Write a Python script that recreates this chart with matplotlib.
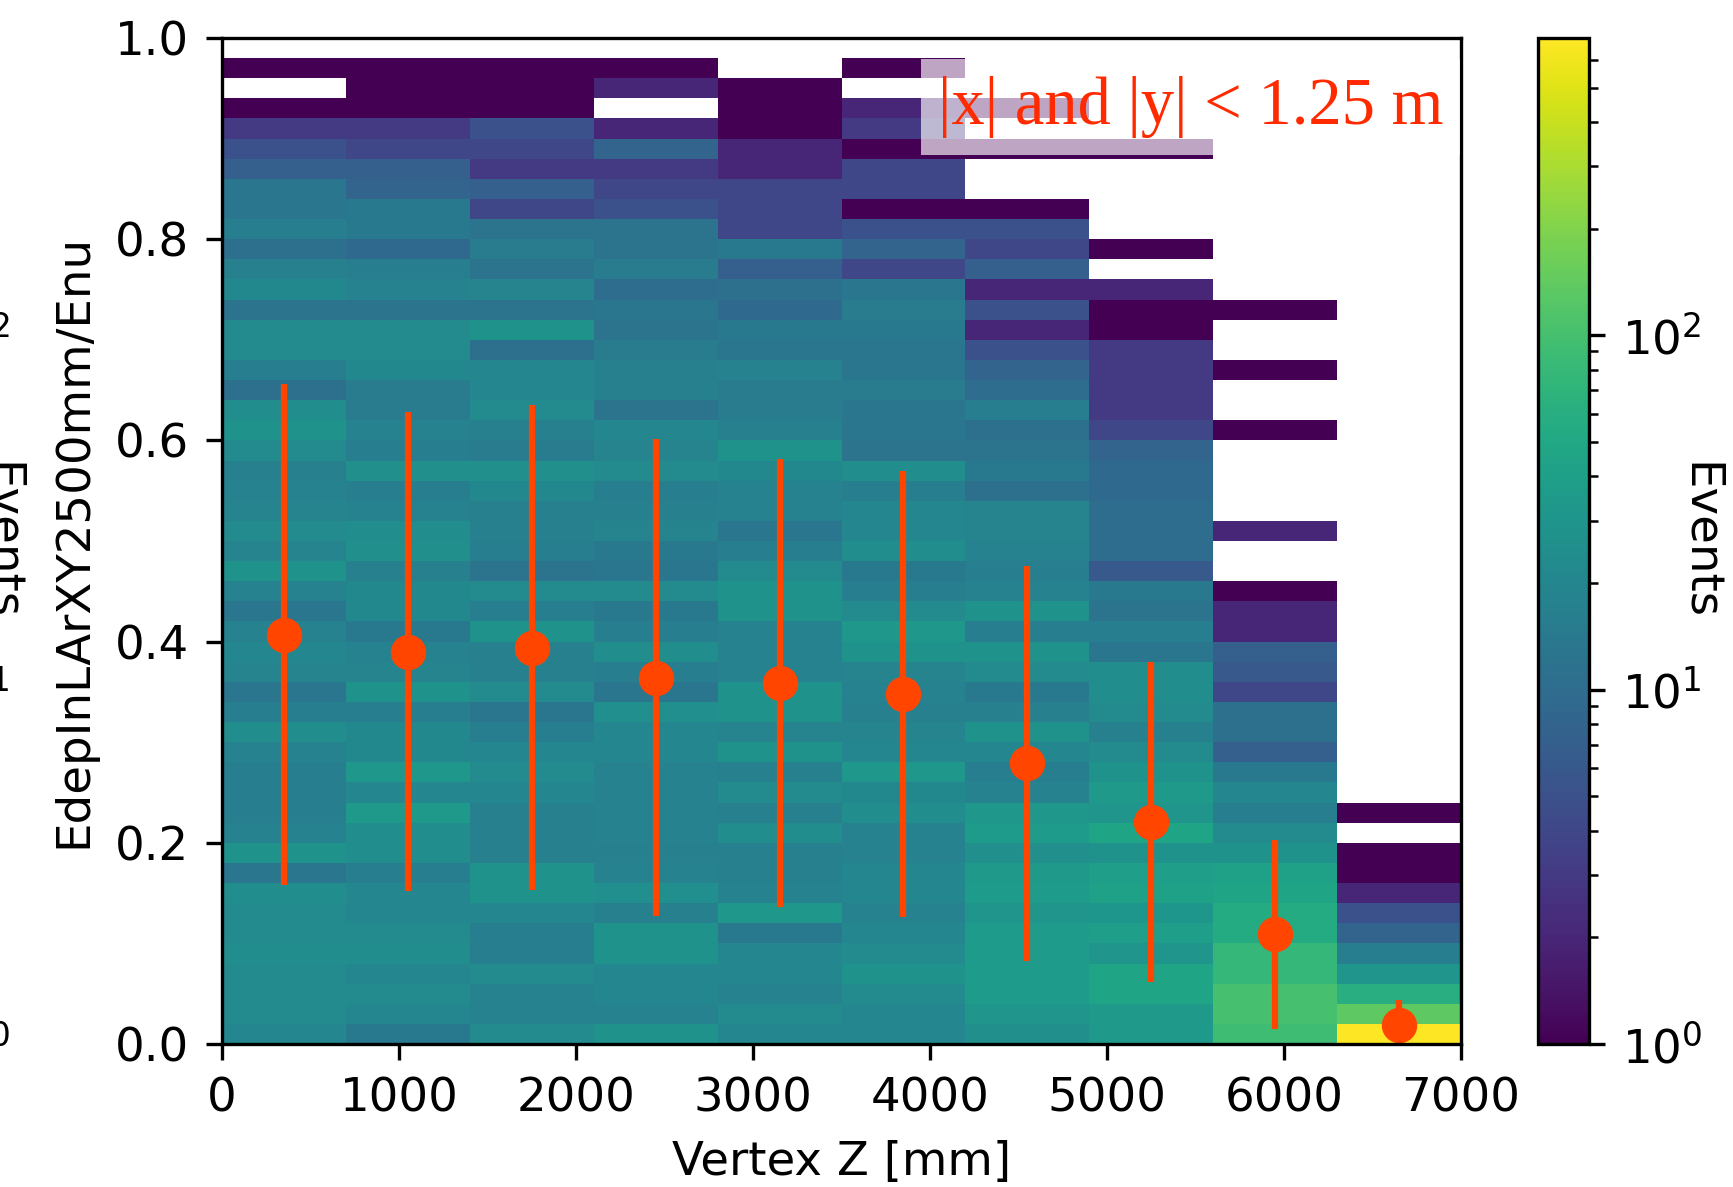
#!/usr/bin/env python3
"""2D histogram of the LAr energy fraction vs. vertex Z, with per-bin profile."""

import numpy as np
import matplotlib
matplotlib.use("Agg")
import matplotlib.pyplot as plt
from matplotlib.colors import LogNorm
from matplotlib.transforms import blended_transform_factory

# Bin edges: 10 bins in vertex Z (mm), 50 bins in EdepInLArXY2500mm/Enu
z_edges = np.linspace(0, 7000, 11)
frac_edges = np.linspace(0, 1, 51)

# Event counts per Z bin, listed from the lowest fraction bin upwards
counts_z0 = [20, 22, 22, 22, 24, 22, 22, 24, 13, 28, 18, 16, 16, 16, 18, 24, 16, 13, 19, 20,
             18, 13, 18, 27, 19, 22, 19, 18, 17, 22, 27, 24, 11, 16, 22, 22, 12, 21, 17, 11,
             16, 13, 13, 7, 5, 3, 1, 0, 1, 0]
counts_z1 = [14, 20, 22, 20, 24, 22, 20, 20, 16, 24, 24, 34, 20, 32, 21, 21, 16, 27, 19, 18,
             14, 21, 21, 17, 26, 24, 18, 16, 26, 16, 18, 15, 15, 21, 22, 22, 12, 18, 16, 9,
             14, 14, 8, 7, 4, 3, 1, 1, 1, 0]
counts_z2 = [22, 18, 18, 22, 16, 16, 20, 27, 28, 17, 17, 17, 20, 22, 20, 16, 13, 22, 17, 17,
             27, 16, 22, 12, 16, 17, 17, 21, 26, 15, 17, 22, 20, 20, 11, 27, 12, 19, 12, 15,
             12, 4, 7, 3, 4, 5, 1, 1, 1, 0]
counts_z3 = [28, 18, 20, 20, 27, 27, 17, 25, 18, 17, 18, 18, 18, 18, 20, 20, 25, 13, 16, 24,
             16, 14, 22, 13, 14, 19, 17, 16, 22, 19, 20, 12, 17, 17, 15, 12, 13, 10, 15, 12,
             12, 5, 4, 3, 8, 2, 0, 2, 1, 0]
counts_z4 = [20, 22, 18, 20, 20, 14, 32, 18, 17, 17, 24, 17, 22, 17, 28, 19, 28, 27, 18, 18,
             18, 27, 27, 22, 16, 13, 18, 18, 21, 28, 17, 15, 15, 18, 13, 14, 9, 11, 7, 14,
             4, 4, 4, 2, 2, 1, 1, 1, 0, 0]
counts_z5 = [20, 20, 22, 27, 22, 20, 18, 20, 20, 18, 18, 24, 21, 32, 20, 19, 17, 18, 19, 28,
             32, 22, 16, 14, 24, 20, 20, 16, 24, 12, 13, 13, 15, 13, 13, 14, 15, 13, 4, 8,
             5, 1, 4, 4, 1, 3, 2, 0, 1, 0]
counts_z6 = [26, 30, 35, 35, 35, 35, 30, 35, 34, 26, 35, 33, 18, 16, 20, 28, 17, 14, 22, 27,
             16, 27, 18, 16, 18, 19, 19, 11, 14, 12, 11, 16, 10, 8, 5, 2, 5, 2, 7, 4,
             5, 1, 0, 0, 1, 0, 1, 0, 0, 0]
counts_z7 = [34, 34, 45, 45, 30, 38, 31, 41, 38, 28, 45, 30, 34, 28, 22, 17, 22, 24, 24, 13,
             16, 12, 14, 6, 10, 10, 10, 9, 9, 8, 4, 3, 3, 3, 3, 1, 1, 2, 0, 1,
             0, 0, 0, 0, 1, 0, 0, 0, 0, 0]
counts_z8 = [90, 100, 100, 78, 78, 55, 55, 45, 41, 28, 22, 16, 20, 14, 7, 11, 11, 4, 6, 7,
             2, 2, 1, 0, 0, 2, 0, 0, 0, 0, 1, 0, 0, 1, 0, 0, 1, 0, 0, 0,
             0, 0, 0, 0, 0, 0, 0, 0, 0, 0]
counts_z9 = [690, 135, 60, 30, 16, 8, 5, 2, 1, 1, 0, 1, 0, 0, 0, 0, 0, 0, 0, 0,
             0, 0, 0, 0, 0, 0, 0, 0, 0, 0, 0, 0, 0, 0, 0, 0, 0, 0, 0, 0,
             0, 0, 0, 0, 0, 0, 0, 0, 0, 0]

# Profile: mean and spread of the fraction in each Z bin
prof_mean = [0.407, 0.390, 0.394, 0.364, 0.359, 0.348, 0.279, 0.221, 0.109, 0.019]
prof_err = [0.249, 0.238, 0.241, 0.237, 0.223, 0.222, 0.196, 0.159, 0.094, 0.025]

W, H, DPI = 1733, 1187, 300
FS = 11.2

plt.rcParams['font.size'] = FS
plt.rcParams['xtick.major.size'] = 3.9
plt.rcParams['ytick.major.size'] = 3.9
plt.rcParams['xtick.major.pad'] = 3.9
plt.rcParams['ytick.major.pad'] = 3.9
plt.rcParams['ytick.minor.size'] = 2.2
plt.rcParams['axes.labelpad'] = 4.5


def main():
    counts = np.array([counts_z0, counts_z1, counts_z2, counts_z3, counts_z4,
                       counts_z5, counts_z6, counts_z7, counts_z8, counts_z9], dtype=float)
    z_centers = 0.5 * (z_edges[:-1] + z_edges[1:])

    fig = plt.figure(figsize=(W / DPI, H / DPI), dpi=DPI)
    ax = fig.add_axes([222 / W, 1 - 1044 / H, 1239 / W, 1006 / H])
    cax = fig.add_axes([1538 / W, 1 - 1044 / H, 51 / W, 1006 / H])

    norm = LogNorm(vmin=1, vmax=counts.max())
    mesh = ax.pcolormesh(z_edges, frac_edges, counts.T, cmap='viridis', norm=norm)

    ax.errorbar(z_centers, prof_mean, yerr=prof_err, fmt='o', color='orangered',
                markersize=7.5, elinewidth=1.5, capsize=0)

    ax.text(4045, 0.9145, '|x| and |y| < 1.25 m', fontsize=16, family='Liberation Serif',
            color='#ff2a00', va='baseline',
            bbox=dict(facecolor='white', alpha=0.65, edgecolor='none'))

    ax.set_xlim(0, 7000)
    ax.set_ylim(0, 1)
    ax.set_xlabel('Vertex Z [mm]')
    ax.set_ylabel('EdepInLArXY2500mm/Enu')

    fig.colorbar(mesh, cax=cax)
    cax.text(3.17, 0.5, 'Events', transform=cax.transAxes, rotation=270,
             ha='center', va='center', fontsize=FS)

    # stray colorbar pieces cut off at the left edge of the canvas
    trans = blended_transform_factory(fig.transFigure, cax.transData)
    for v, lab in [(1, '$10^{0}$'), (10, '$10^{1}$'), (100, '$10^{2}$')]:
        fig.text(10 / W, v, lab, transform=trans, ha='right', va='center_baseline',
                 fontsize=FS)
    trans_ax = blended_transform_factory(fig.transFigure, cax.transAxes)
    fig.text(23 / W, 0.5, 'Events', transform=trans_ax, rotation=270,
             ha='right', va='center', fontsize=FS)

    fig.savefig('out.png', dpi=DPI)


if __name__ == '__main__':
    main()
